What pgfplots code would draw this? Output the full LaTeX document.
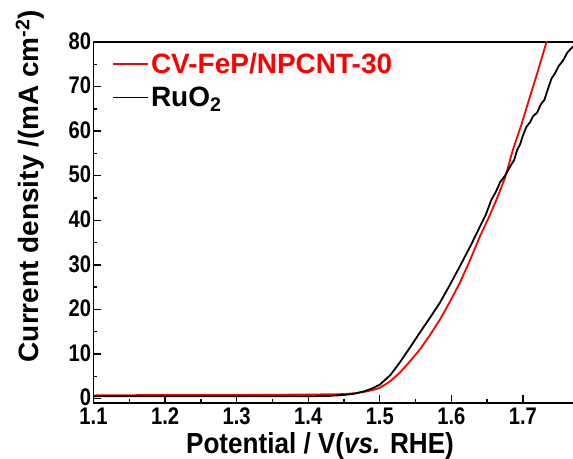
\documentclass[border=0pt]{standalone}
\usepackage{pgfplots}
\pgfplotsset{compat=1.18}
\usepackage{fontspec}
\setmainfont{Liberation Sans}
\newfontfamily\tickfont{Liberation Sans}[FakeStretch=0.84]
\newfontfamily\xlabfont{Liberation Sans}[FakeStretch=0.9]
\begin{document}
\begin{tikzpicture}
\begin{axis}[
  scale only axis, width=479.5pt, height=361pt,
  xmin=1.1, xmax=1.77, ymin=-1, ymax=80,
  axis x line=box, axis y line=left,
  axis line style={-, line width=1.6pt, black},
  tick align=inside, xtick pos=bottom, ytick pos=left,
  xtick={1.1,1.2,1.3,1.4,1.5,1.6,1.7},
  ytick={0,10,20,30,40,50,60,70,80},
  minor x tick num=1, minor y tick num=1,
  major tick length=8pt, minor tick length=4pt,
  every tick/.style={line width=1.4pt, black},
  /pgf/number format/assume math mode=true,
  ticklabel style={font=\tickfont\fontsize{24}{24}\selectfont\bfseries},
  xticklabel style={yshift=-1pt, /pgf/number format/fixed, /pgf/number format/fixed zerofill, /pgf/number format/precision=1},
  yticklabel style={xshift=1pt, yshift=1pt, /pgf/number format/fixed, /pgf/number format/precision=0},
  xlabel={Potential / V(\textit{vs.} RHE)},
  ylabel={Current density /(mA cm\textsuperscript{-2})},
  every axis x label/.style={at={(axis description cs:0.4724,-0.1190)}, anchor=center, font=\xlabfont\fontsize{29}{29}\selectfont\bfseries},
  every axis y label/.style={at={(axis description cs:-0.1324,0.601)}, anchor=center, rotate=90, font=\fontsize{28}{28}\selectfont\bfseries},
  legend style={at={(axis description cs:0.0386,0.975)}, anchor=north west, draw=none, fill=none,
    font=\fontsize{28}{32}\selectfont\bfseries, inner sep=0pt, row sep=8pt},
  legend cell align=left,
  legend image code/.code={\draw[#1] (0pt,0pt) -- (35pt,0pt);},
]
\addplot[red, line width=1.8pt] coordinates {
(1.10,0.7) (1.15,0.75) (1.20,0.8) (1.25,0.8) (1.30,0.8) (1.35,0.85) (1.40,0.9) (1.43,0.95)
(1.45,1.0) (1.465,1.2) (1.478,1.5) (1.49,1.9) (1.50,2.4) (1.514,3.8) (1.528,5.8)
(1.542,8.3) (1.556,11.0) (1.57,14.2) (1.584,17.7) (1.598,21.7) (1.612,26.0) (1.626,31.0)
(1.64,36.4) (1.652,40.5) (1.663,44.6) (1.675,49.5) (1.686,55.8) (1.698,61.5) (1.71,67.8)
(1.72,73.0) (1.733,80.0) (1.74,83.5)
};
\addlegendentry{\textcolor{red}{CV-FeP/NPCNT-30}}
\addplot[black, line width=1.8pt] coordinates {
(1.10,0.5) (1.15,0.5) (1.20,0.5) (1.25,0.5) (1.30,0.5) (1.35,0.5) (1.40,0.5) (1.43,0.6)
(1.45,0.8) (1.465,1.1) (1.478,1.6) (1.49,2.3) (1.50,3.1) (1.515,5.3) (1.528,8.1)
(1.542,11.4) (1.556,14.8) (1.57,18.1) (1.584,21.5) (1.598,25.5) (1.612,29.7) (1.626,34.0)
(1.64,38.6) (1.648,41.2) (1.656,44.6) (1.662,46.3) (1.668,48.5) (1.675,50.0) (1.682,52.0)
(1.688,53.6) (1.692,55.8) (1.696,57.0) (1.70,59.0) (1.705,61.0) (1.71,62.0) (1.714,63.3)
(1.72,64.2) (1.725,66.0) (1.73,67.0) (1.735,69.5) (1.74,71.8) (1.745,73.0) (1.75,74.6)
(1.756,75.8) (1.762,77.6) (1.77,79.0)
};
\addlegendentry{RuO\textsubscript{2}}
\coordinate (SW) at (rel axis cs:0,0);
\coordinate (NE) at (rel axis cs:1,1);
\end{axis}
\pgfresetboundingbox
\path[use as bounding box] ([xshift=-93.5pt,yshift=-56pt]SW) rectangle ([yshift=42pt]NE);
\end{tikzpicture}
\end{document}
